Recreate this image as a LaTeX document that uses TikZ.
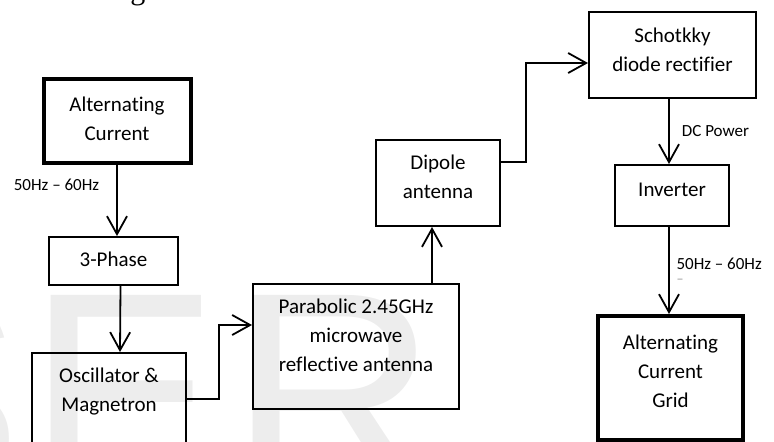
\documentclass[tikz,border=0pt]{standalone}
\usepackage{fontspec}
\setmainfont{Carlito}[Ligatures=NoCommon]
\newfontfamily\pageserif{Liberation Serif}
\newfontfamily\markfont{Liberation Sans}
\usepackage{tikz}
\usetikzlibrary{arrows.meta}

\begin{document}
\begin{tikzpicture}[
  x=0.5pt, y=-0.5pt,
  font=\fontsize{10.5}{14.5}\selectfont,
  block/.style={draw, line width=1pt, inner sep=0pt, minimum width=#1, text height=14.5pt, align=center},
  heavy/.style={block=#1, line width=2pt},
  tag/.style={font=\fontsize{8.5}{10}\selectfont, inner sep=0pt},
  arrow/.style={-{Straight Barb[length=9pt, width=10pt]}, line width=0.9pt}
]
\useasboundingbox (0,0) rectangle (774,441);
\clip (0,0) rectangle (774,441);

\foreach \glyph/\xpos in {S/-170, E/27, R/229}
  \node[font=\markfont\fontsize{144}{144}\selectfont, text=black!7, anchor=base west, inner sep=0pt] (mark\glyph) at (\xpos,493) {\glyph};
\node[font=\pageserif\fontsize{15}{18}\selectfont, anchor=base west, inner sep=0pt] (prevline) at (70,-1) {voltage.};

\node[heavy=73.5pt, text height=31pt, text depth=11pt] (ac) at (117,120.5) {Alternating\\Current};
\node[block=64.5pt, text depth=9.5pt] (phase) at (113.5,261) {3-Phase};
\node[block=77pt, text height=29pt, text depth=34.5pt] (osc) at (109,416.5) {Oscillator \&\\Magnetron};
\node[block=103pt, text height=43.5pt, text depth=19pt] (para) at (356,346.5) {Parabolic 2.45GHz\\microwave\\reflective antenna};
\node[block=62pt, text height=29pt, text depth=14pt] (dipole) at (438,183) {Dipole\\antenna};
\node[block=83.5pt, text height=29.5pt, text depth=13.5pt] (schottky) at (672.5,55) {Schotkky\\diode rectifier};
\node[block=57pt, text height=15.5pt, text depth=15pt] (inverter) at (672,195.5) {Inverter};
\node[heavy=72.5pt, text height=45.5pt, text depth=16.5pt] (grid) at (670.5,378) {Alternating\\Current\\Grid};

\draw[arrow] (ac.south) -- (ac.south |- phase.north) node[tag, pos=0.28, left=8.5pt] (hzin) {50Hz -- 60Hz};
\draw[arrow] ([xshift=3.5pt]phase.south) -- ([xshift=5.5pt]osc.north);
\draw[arrow] ([yshift=8.75pt]osc.east) -- ++(32,0) |- ([yshift=10.75pt]para.west);
\draw[arrow] ([xshift=38pt]para.north) -- ([xshift=38pt]para.north |- dipole.south);
\draw[arrow] ([yshift=10.5pt]dipole.east) -- ++(25,0) |- ([yshift=-4pt]schottky.west);
\draw[arrow] ([xshift=-1.75pt]schottky.south) -- ([xshift=-1.75pt]schottky.south |- inverter.north) node[tag, midway, right=6pt] (dcpower) {DC Power};
\draw[arrow] ([xshift=-1.5pt]inverter.south) -- ([xshift=-1.5pt]inverter.south |- grid.north) node[tag, pos=0.5, right=3.3pt, align=left] (hzout) {50Hz -- 60Hz\\[-3pt]{\color{black!40}\scriptsize --}};
\end{tikzpicture}
\end{document}
